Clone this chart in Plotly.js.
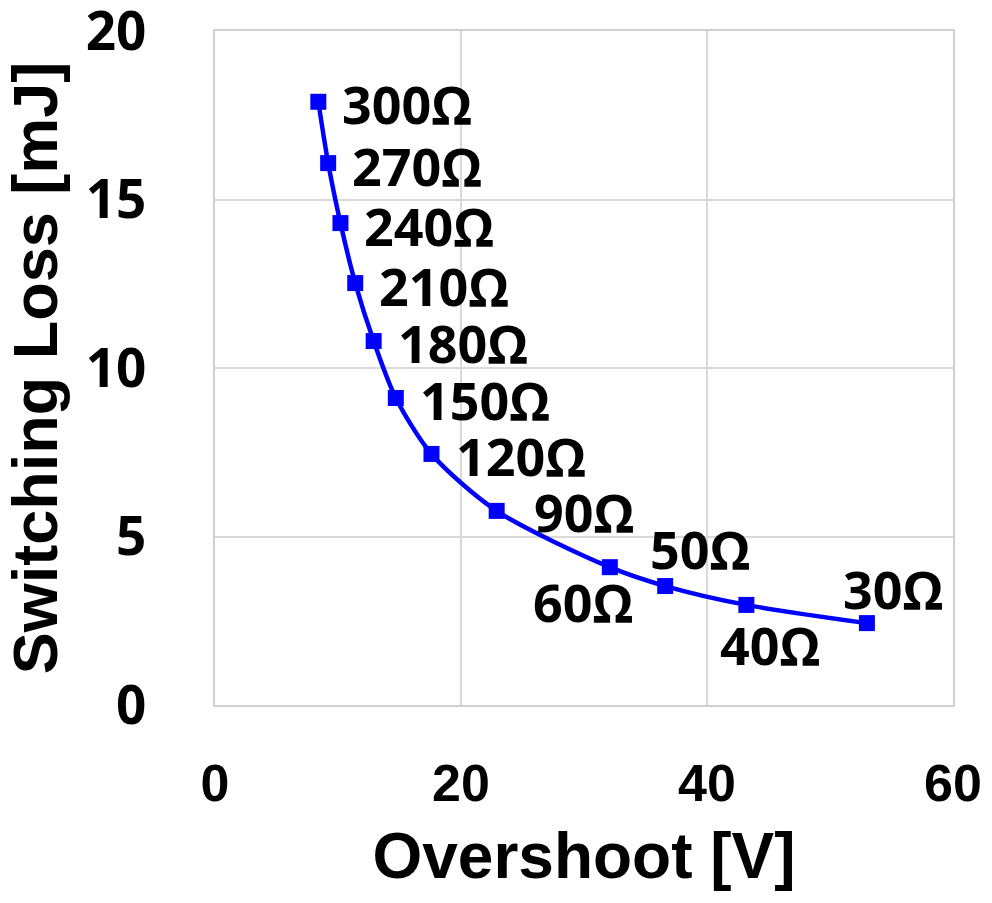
<!DOCTYPE html>
<html>
<head>
<meta charset="utf-8">
<script src="https://cdn.plot.ly/plotly-3.0.1.min.js"></script>
<style>html,body{margin:0;padding:0;background:#fff;}#chart{width:992px;height:903px;}</style>
</head>
<body>
<div id="chart"></div>
<script>
// Data
const resistorLabels = ["300Ω","270Ω","240Ω","210Ω","180Ω","150Ω","120Ω","90Ω","60Ω","50Ω","40Ω","30Ω"];
const overshootV = [8.4, 9.2, 10.2, 11.4, 12.9, 14.7, 17.6, 22.9, 32.1, 36.6, 43.2, 53.0];
const switchingLossMJ = [17.9, 16.08, 14.3, 12.52, 10.8, 9.11, 7.45, 5.76, 4.09, 3.53, 2.97, 2.43];
const xTickVals = [0, 20, 40, 60];
const yTickVals = [0, 5, 10, 15, 20];

// Label placement (style only)
const labelStyle = [
  {xa:"left", xs:23, ys:-2},
  {xa:"left", xs:23, ys:-2},
  {xa:"left", xs:23, ys:-2},
  {xa:"left", xs:23, ys:-2},
  {xa:"left", xs:23, ys:-1},
  {xa:"left", xs:23, ys:-2},
  {xa:"left", xs:24, ys:-2},
  {xa:"left", xs:36, ys:-1},
  {xa:"center", xs:-27, ys:-34},
  {xa:"center", xs:35, ys:38},
  {xa:"center", xs:24, ys:-40},
  {xa:"center", xs:26, ys:35}
];

const labelFont = {family:"'Open Sans', 'Noto Sans', sans-serif", size:52, color:"#000", weight:700};
const annotations = resistorLabels.map((t,i)=>({
  x: overshootV[i], y: switchingLossMJ[i], xref:"x", yref:"y",
  text: "<b>"+t+"</b>", showarrow:false,
  xanchor: labelStyle[i].xa, yanchor:"middle",
  xshift: labelStyle[i].xs, yshift: labelStyle[i].ys,
  borderpad:0,
  font: labelFont
}));

const trace = {
  x: overshootV, y: switchingLossMJ, type:"scatter", mode:"lines+markers",
  line:{color:"#0000FF", width:4.5, shape:"spline", smoothing:0.8},
  marker:{symbol:"square", size:16, color:"#0000FF"},
  hoverinfo:"skip"
};

const layout = {
  width:992, height:903,
  margin:{l:215, r:39, t:31, b:198, pad:0},
  paper_bgcolor:"#fff", plot_bgcolor:"#fff",
  showlegend:false,
  xaxis:{
    range:[0,60], tickvals:xTickVals, ticktext:xTickVals.map(v=>"<b>"+v+"</b>"),
    showgrid:true, gridcolor:"#d9d9d9", gridwidth:2,
    showline:true, linecolor:"#d0d0d0", linewidth:2, mirror:true,
    zeroline:false, ticks:"", ticklen:0, ticklabelstandoff:32, ticklabeloverflow:"allow",
    tickfont:{family:"'Liberation Sans', Arial, sans-serif", size:52, color:"#000"},
    title:{text:"<b>Overshoot [V]</b>", standoff:22,
      font:{family:"'Liberation Sans', Arial, sans-serif", size:64, color:"#000"}}
  },
  yaxis:{
    range:[0,20], tickvals:yTickVals, ticktext:yTickVals.map(v=>"<b>"+v+"</b>"),
    showgrid:true, gridcolor:"#d9d9d9", gridwidth:2,
    showline:true, linecolor:"#d0d0d0", linewidth:2, mirror:true,
    zeroline:false, ticks:"", ticklen:0, ticklabelstandoff:56, ticklabeloverflow:"allow",
    tickfont:{family:"'Open Sans', 'Noto Sans', sans-serif", size:53, color:"#000"},
    title:{text:"<b>Switching Loss [mJ]</b>", standoff:10,
      font:{family:"'Liberation Sans', Arial, sans-serif", size:63, color:"#000"}}
  },
  annotations: annotations
};

Plotly.newPlot("chart", [trace], layout, {staticPlot:true, displayModeBar:false});
</script>
</body>
</html>
